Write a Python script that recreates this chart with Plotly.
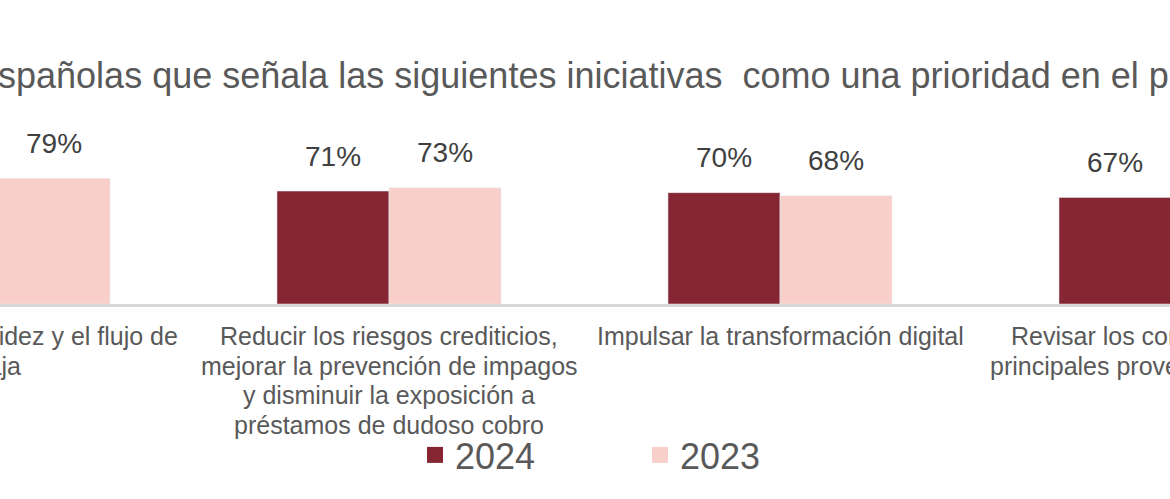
import plotly.graph_objects as go

# ---- data ----
categories = [
    "Gestionar la liquidez y el flujo de caja",
    "Reducir los riesgos crediticios, mejorar la prevención de impagos y disminuir la exposición a préstamos de dudoso cobro",
    "Impulsar la transformación digital",
    "Revisar los contratos con los principales proveedores y socios",
]
category_lines = [
    ["Gestionar la liquidez y el flujo de", "caja"],
    ["Reducir los riesgos crediticios,", "mejorar la prevención de impagos",
     "y disminuir la exposición a", "préstamos de dudoso cobro"],
    ["Impulsar la transformación digital"],
    ["Revisar los contratos con los", "principales proveedores y socios"],
]
series_names = ["2024", "2023"]
values_2024 = [None, 71, 70, 67]   # first value cropped out of view
values_2023 = [79, 73, 68, None]   # last value cropped out of view
title_text = "españolas que señala las siguientes iniciativas  como una prioridad en el próximo año"

# ---- style ----
W, H = 1170, 499
C2024 = "#862633"
C2023 = "#F9CFCA"
GREY = "#595959"
FONT = "Liberation Sans, Arial, sans-serif"
BARGAP = 0.427
XR = [0.00512, 2.9974]
MT, MB = 129, 195
PLOT_BOTTOM = H - MB
PLOT_H = H - MT - MB

def paper_y(ypix):
    return (PLOT_BOTTOM - ypix) / PLOT_H

def paper_x_of(xval):
    return (xval - XR[0]) / (XR[1] - XR[0])

idx = list(range(len(categories)))

fig = go.Figure()
fig.add_trace(go.Bar(x=idx, y=values_2024, name=series_names[0], marker_color=C2024,
                     showlegend=False, legendgroup="a"))
fig.add_trace(go.Bar(x=idx, y=values_2023, name=series_names[1], marker_color=C2023,
                     showlegend=False, legendgroup="b"))
# legend entries with larger square swatches
fig.add_trace(go.Scatter(x=[None], y=[None], mode="markers", name=series_names[0],
                         marker=dict(symbol="square", size=16, color=C2024), legendgroup="a"))
fig.add_trace(go.Scatter(x=[None], y=[None], mode="markers", name=series_names[1],
                         marker=dict(symbol="square", size=16, color=C2023), legendgroup="b"))

ann = []
# value labels
off = (1 - BARGAP) / 4
for vals, sgn in ((values_2024, -1), (values_2023, 1)):
    for i, v in zip(idx, vals):
        if v is None:
            continue
        ann.append(dict(x=i + sgn * off, y=v, xref="x", yref="y", text=f"{v}%",
                        showarrow=False, yshift=35, yanchor="middle",
                        font=dict(size=28, color="#404040", family=FONT)))
# category labels (one annotation per line for Excel-like line spacing)
LINE0, LINE_STEP = 336, 29.5
for i, lines in zip(idx, category_lines):
    for k, line in enumerate(lines):
        ann.append(dict(x=paper_x_of(i), y=paper_y(LINE0 + k * LINE_STEP), xref="paper", yref="paper",
                        text=line, showarrow=False, xanchor="center", yanchor="middle",
                        font=dict(size=25, color=GREY, family=FONT)))
# title (cropped view)
ann.append(dict(x=0, y=paper_y(75), xref="paper", yref="paper", text=title_text,
                showarrow=False, xanchor="left", yanchor="middle", xshift=-24,
                font=dict(size=36, color=GREY, family=FONT)))

fig.update_layout(
    width=W, height=H,
    margin=dict(l=0, r=0, t=MT, b=MB, pad=0),
    paper_bgcolor="white", plot_bgcolor="white",
    barmode="group", bargap=BARGAP, bargroupgap=0,
    xaxis=dict(range=XR, showticklabels=False, showgrid=False, zeroline=False,
               showline=True, linecolor="#D9D9D9", linewidth=3, ticks=""),
    yaxis=dict(range=[0, 110], visible=False),
    legend=dict(orientation="h", x=415 / W, y=paper_y(455),
                xanchor="left", yanchor="middle", entrywidth=180,
                font=dict(size=36, color=GREY, family=FONT), bgcolor="rgba(0,0,0,0)"),
    annotations=ann,
    font=dict(family=FONT, color=GREY),
)

fig.write_html("out.html", config={"displayModeBar": False},
               post_script="document.body.style.margin='0';")
